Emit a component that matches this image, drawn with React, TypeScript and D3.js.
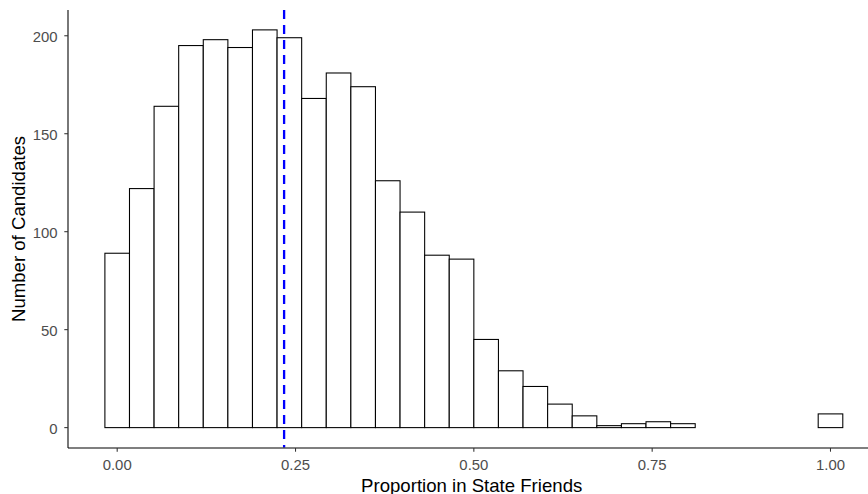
import React from "react";
import * as d3 from "d3";

// Histogram: 30 bins of width 1/29, centered from 0 to 1
const binCounts = [89, 122, 164, 195, 198, 194, 203, 199, 168, 181, 174, 126, 110, 88, 86, 45, 29, 21, 12, 6, 1, 2, 3, 2, 0, 0, 0, 0, 0, 7];
const binWidth = 1 / 29;
const meanValue = 0.234;
const xTicks = [0, 0.25, 0.5, 0.75, 1.0];
const yTicks = [0, 50, 100, 150, 200];
const xTitle = "Proportion in State Friends";
const yTitle = "Number of Candidates";

const W = 868;
const H = 494;

export default function App() {
  const bins = binCounts.map((c, i) => ({
    x0: -binWidth / 2 + i * binWidth,
    x1: binWidth / 2 + i * binWidth,
    count: c,
  }));
  const xMin = bins[0].x0;
  const xMax = bins[bins.length - 1].x1;
  const xPad = (xMax - xMin) * 0.05;
  const yMaxData = d3.max(binCounts) as number;
  const yPad = yMaxData * 0.05;

  const left = 68;
  const top = 10;
  const bottom = 447.5;
  const x = d3
    .scaleLinear()
    .domain([xMin - xPad, xMax + xPad])
    .range([left, left + (xMax + 2 * xPad - xMin) * 713.3]);
  const y = d3.scaleLinear().domain([-yPad, yMaxData + yPad]).range([bottom, top]);

  const fmt = d3.format(".2f");
  const font = "'Liberation Sans', Arial, sans-serif";

  return (
    <svg
      width={W}
      height={H}
      style={{ position: "absolute", left: 0, top: 0, background: "#fff" }}
      fontFamily={font}
    >
      <rect x={0} y={0} width={W} height={H} fill="#fff" />
      {bins.map((b, i) => (
        <rect
          key={i}
          x={x(b.x0)}
          y={y(b.count)}
          width={x(b.x1) - x(b.x0)}
          height={y(0) - y(b.count)}
          fill="#fff"
          stroke="#000"
          strokeWidth={1.07}
        />
      ))}
      <line
        x1={x(meanValue)}
        x2={x(meanValue)}
        y1={top}
        y2={bottom}
        stroke="#0000ff"
        strokeWidth={2.3}
        strokeDasharray="9,6"
      />
      {/* axes */}
      <line x1={left} x2={left} y1={top} y2={bottom + 0.5} stroke="#000" strokeWidth={1.07} />
      <line x1={left} x2={W} y1={bottom + 0.5} y2={bottom + 0.5} stroke="#000" strokeWidth={1.07} />
      {yTicks.map((t) => (
        <g key={"y" + t}>
          <line x1={left - 3.7} x2={left} y1={y(t)} y2={y(t)} stroke="#333" strokeWidth={1.07} />
          <text
            x={left - 10.5}
            y={y(t)}
            dy="0.45em"
            textAnchor="end"
            fontSize={14.9}
            fill="#4D4D4D"
          >
            {t}
          </text>
        </g>
      ))}
      {xTicks.map((t) => (
        <g key={"x" + t}>
          <line x1={x(t)} x2={x(t)} y1={bottom + 0.5} y2={bottom + 4.2} stroke="#333" strokeWidth={1.07} />
          <text x={x(t)} y={470} textAnchor="middle" fontSize={14.9} fill="#4D4D4D">
            {fmt(t)}
          </text>
        </g>
      ))}
      <text x={471.7} y={491.5} textAnchor="middle" fontSize={18.6} fill="#000">
        {xTitle}
      </text>
      <text
        transform={`translate(25, 229) rotate(-90)`}
        textAnchor="middle"
        fontSize={18.6}
        fill="#000"
      >
        {yTitle}
      </text>
    </svg>
  );
}
